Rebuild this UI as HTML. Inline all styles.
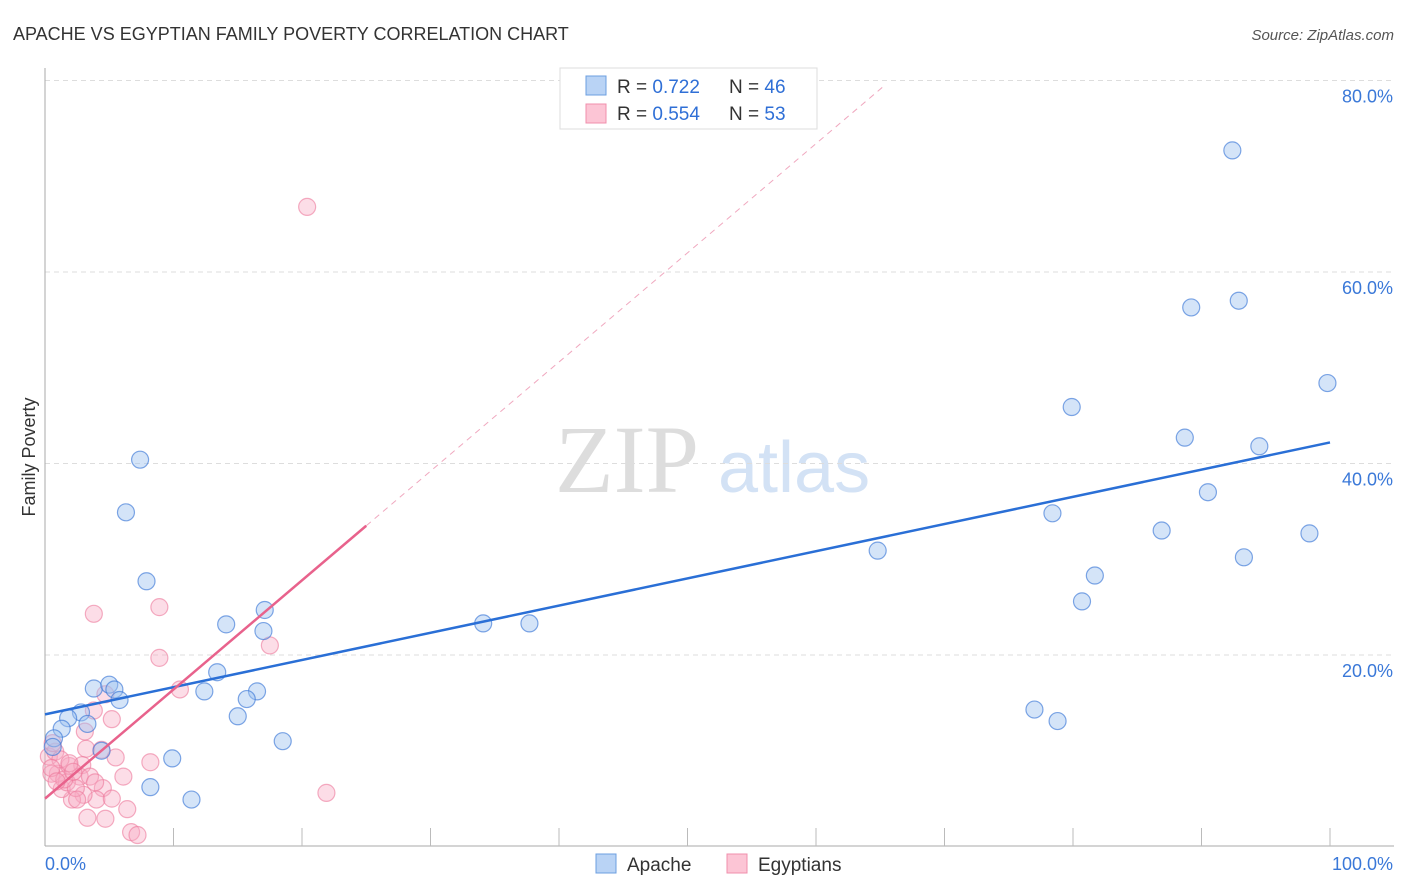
<!DOCTYPE html>
<html><head><meta charset="utf-8"><style>
body{margin:0;background:#fff;font-family:"Liberation Sans",sans-serif;}
svg{display:block}
</style></head><body>
<svg width="1406" height="892" id="c">
<text x="13" y="40" font-size="18" fill="#333">APACHE VS EGYPTIAN FAMILY POVERTY CORRELATION CHART</text>
<text x="1394" y="40" font-size="15" fill="#555" font-style="italic" text-anchor="end">Source: ZipAtlas.com</text>
<text x="35" y="457" font-size="18" fill="#333" transform="rotate(-90 35 457)" text-anchor="middle">Family Poverty</text>
<text x="555" y="492" font-size="96" fill="#ddd" font-family="Liberation Serif,serif">ZIP</text>
<text x="718" y="492" font-size="72" fill="#d3e2f5">atlas</text>
<g id="grid"></g><g id="axes"></g><g id="pts"></g><g id="lines"></g>
<g>
<rect x="560" y="68" width="257" height="61" fill="#fff" stroke="#ddd"/>
<rect x="586" y="76" width="20" height="19" fill="#b9d3f5" stroke="#6c9fe0"/>
<rect x="586" y="104" width="20" height="19" fill="#fcc5d5" stroke="#f08fac"/>
<text x="617" y="93" font-size="19" fill="#333">R = <tspan fill="#2f6fd6">0.722</tspan></text>
<text x="729" y="93" font-size="19" fill="#333">N = <tspan fill="#2f6fd6">46</tspan></text>
<text x="617" y="120" font-size="19" fill="#333">R = <tspan fill="#2f6fd6">0.554</tspan></text>
<text x="729" y="120" font-size="19" fill="#333">N = <tspan fill="#2f6fd6">53</tspan></text>
</g>
<g>
<rect x="596" y="854" width="20" height="19" fill="#b9d3f5" stroke="#6c9fe0"/>
<text x="627" y="871" font-size="19" fill="#333">Apache</text>
<rect x="727" y="854" width="20" height="19" fill="#fcc5d5" stroke="#f08fac"/>
<text x="758" y="871" font-size="19" fill="#333">Egyptians</text>
</g>
</svg>
<script>
const yTicks=[20,40,60,80];
const yTickLabels=["20.0%","40.0%","60.0%","80.0%"];
const xTickLabels=["0.0%","100.0%"];
const apacheX=[7.4,6.3,7.9,17.1,14.1,17.0,13.4,3.8,5.0,5.4,12.4,16.5,5.8,15.7,2.8,1.8,3.3,15.0,1.3,0.7,0.6,4.4,9.9,18.5,8.2,11.4,34.1,37.7,64.8,77.0,78.8,78.4,79.9,80.7,81.7,86.9,88.7,89.2,90.5,92.4,92.9,93.3,94.5,98.4,99.8];
const apacheY=[40.4,34.9,27.7,24.7,23.2,22.5,18.2,16.5,16.9,16.4,16.2,16.2,15.3,15.4,14.0,13.4,12.8,13.6,12.3,11.3,10.4,10.0,9.2,11.0,6.2,4.9,23.3,23.3,30.9,14.3,13.1,34.8,45.9,25.6,28.3,33.0,42.7,56.3,37.0,72.7,57.0,30.2,41.8,32.7,48.4];
const egyX=[20.4,3.8,8.9,8.9,17.5,10.5,4.7,3.8,5.2,3.1,3.2,5.5,8.2,6.1,4.4,21.9,6.4,6.7,7.2,4.7,3.3,4.5,4.0,3.0,2.1,1.3,1.0,0.5,0.3,0.8,1.9,2.9,2.7,1.7,2.4,1.2,3.5,2.5,3.9,5.2,1.9,0.5,0.6,1.5,2.2,0.9];
const egyY=[66.8,24.3,25.0,19.7,21.0,16.4,15.9,14.2,13.3,12.0,10.2,9.3,8.8,7.3,10.1,5.6,3.9,1.5,1.2,2.9,3.0,6.1,4.9,5.4,4.9,6.0,7.6,7.6,9.4,9.9,8.4,8.5,7.3,6.7,6.1,9.1,7.3,4.9,6.7,5.0,8.7,8.2,10.8,7.0,7.8,6.8];
const blueFit=[13.8,42.2];
const pinkFit=[5.0,1.14];
const NS="http://www.w3.org/2000/svg";
const X=p=>45+p*12.85, Y=v=>846.5-v*9.575;
function mk(t,a,parent){const e=document.createElementNS(NS,t);for(const k in a)e.setAttribute(k,a[k]);document.getElementById(parent).appendChild(e);return e;}
yTicks.forEach((t,i)=>{
 const l=mk('line',{x1:45,x2:1394,y1:Y(t),y2:Y(t),stroke:'#ddd','stroke-dasharray':'5,4'},'grid');
 
 
 const tx=mk('text',{x:1393,y:Y(t)+22,'font-size':18,fill:'#3a78d8','text-anchor':'end'},'grid');
 tx.textContent=yTickLabels[i];
 
 
});
mk('line',{x1:45,x2:45,y1:68,y2:846,stroke:'#aaa'},'axes');
mk('line',{x1:45,x2:1394,y1:846,y2:846,stroke:'#aaa'},'axes');
for(let i=1;i<=10;i++){mk('line',{x1:X(i*10),x2:X(i*10),y1:828,y2:846,stroke:'#bbb'},'axes');}
[[0,45,'start'],[100,1393,'end']].forEach((a,i)=>{
 const t=mk('text',{x:a[1],y:870,'font-size':18,fill:'#3a78d8','text-anchor':a[2]},'axes');
 t.textContent=xTickLabels[i];
 
 
});
egyX.forEach((x,i)=>{
 const c=mk('circle',{cx:X(x),cy:Y(egyY[i]),r:8.5,fill:'rgba(248,170,195,0.4)',stroke:'rgba(236,120,155,0.6)','stroke-width':1.2},'pts');
 
 
});
apacheX.forEach((x,i)=>{
 const c=mk('circle',{cx:X(x),cy:Y(apacheY[i]),r:8.5,fill:'rgba(160,195,240,0.45)',stroke:'rgba(60,120,215,0.65)','stroke-width':1.2},'pts');
 
 
});
let l=mk('line',{x1:X(0),y1:Y(blueFit[0]),x2:X(100),y2:Y(blueFit[1]),stroke:'#2a6fd6','stroke-width':2.5},'lines');


l=mk('line',{x1:X(0),y1:Y(pinkFit[0]),x2:X(25),y2:Y(pinkFit[0]+25*pinkFit[1]),stroke:'#e8628c','stroke-width':2.5},'lines');


l=mk('line',{x1:X(25),y1:Y(pinkFit[0]+25*pinkFit[1]),x2:X(65.4),y2:Y(pinkFit[0]+65.4*pinkFit[1]),stroke:'#f0a8bf','stroke-width':1,'stroke-dasharray':'6,5'},'lines');


</script>
</body></html>
